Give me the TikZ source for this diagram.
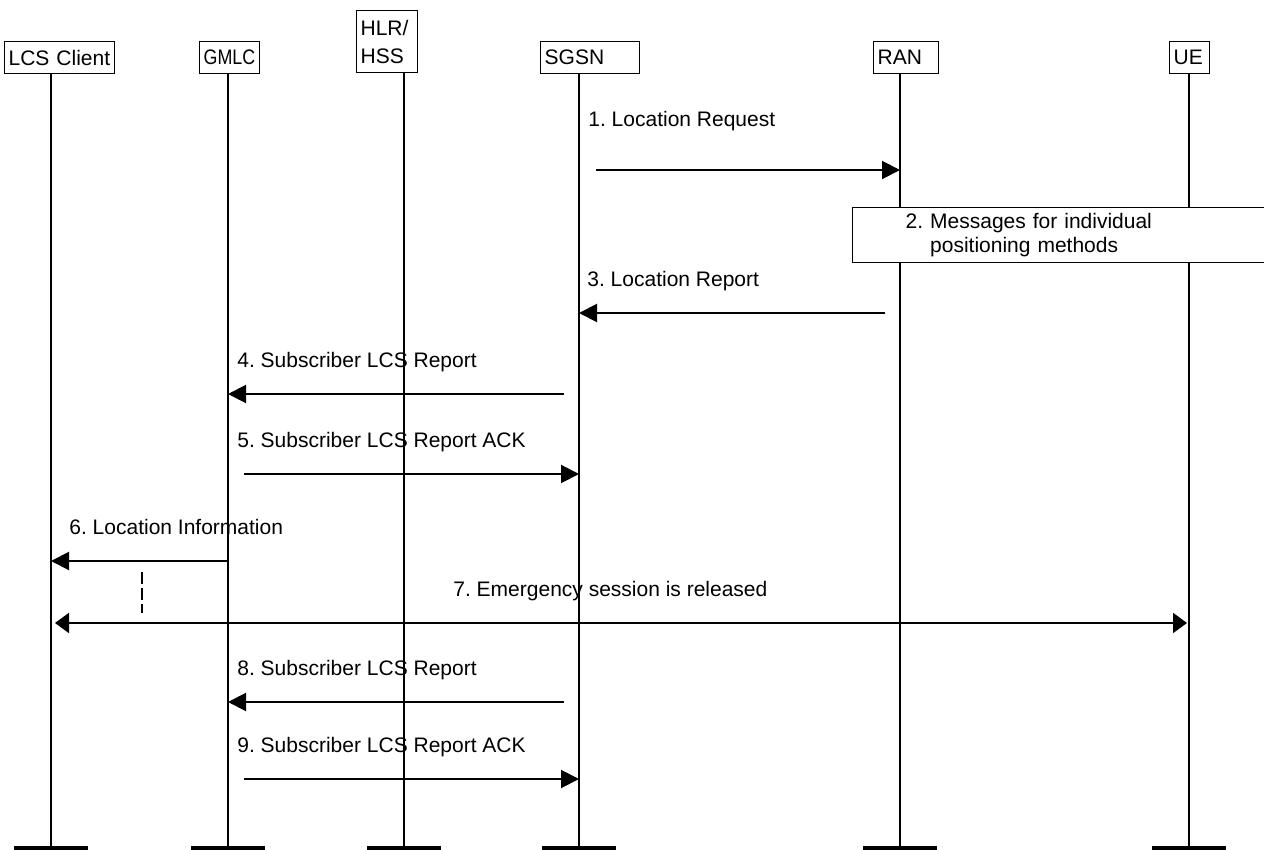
\documentclass[tikz,border=0pt]{standalone}
\usepackage{fontspec}
\usepackage{graphicx}
\setmainfont{Liberation Sans}
\usetikzlibrary{arrows.meta}
\frenchspacing
\begin{document}
\begin{tikzpicture}[x=0.5pt,y=-0.5pt,
  every node/.style={font=\fontsize{10.5pt}{14pt}\selectfont},
  actor/.style={draw, line width=0.65pt, inner xsep=2pt, inner ysep=0pt,
    align=left, anchor=north west, minimum height=16pt},
  life/.style={line width=0.8pt},
  endbar/.style={line width=2.5pt},
  msg/.style={line width=1pt, -{Triangle[length=9pt,width=9pt]}},
  rel/.style={line width=1pt,
    {Triangle[length=7pt,width=10pt]}-{Triangle[length=7pt,width=10pt]}},
  lbl/.style={anchor=base west, inner sep=0pt},
  stepnote/.style={draw, line width=0.65pt, fill=white, anchor=north west,
    align=left, inner xsep=26.5pt, inner ysep=0pt,
    font=\fontsize{10.5pt}{12pt}\selectfont}
]
\useasboundingbox (0,0) rectangle (1264,850);

% participants
\node[actor, text width=51pt]   (lcs)  at (4,41)    {LCS Client};
\node[actor, text width=26pt]   (gmlc) at (199,41)  {\scalebox{0.85}[1]{GMLC}};
\node[actor, text width=26.5pt, minimum height=31pt] (hlr) at (356,10) {HLR/\\HSS};
\node[actor, text width=45.5pt] (sgsn) at (540,41)  {SGSN};
\node[actor, text width=28.5pt] (ran)  at (873,41)  {RAN};
\node[actor, text width=16pt]   (ue)   at (1169,41) {UE};

% lifeline feet
\coordinate (lcsBot)  at (51,848);
\coordinate (gmlcBot) at (228,848);
\coordinate (hlrBot)  at (404,848);
\coordinate (sgsnBot) at (579,848);
\coordinate (ranBot)  at (900,848);
\coordinate (ueBot)   at (1189,848);

\foreach \n in {lcs,gmlc,hlr,sgsn,ran,ue}{
  \draw[life] (\n.south -| \n Bot) -- (\n Bot);
  \draw[endbar] ([xshift=-18.5pt]\n Bot) -- ([xshift=18.5pt]\n Bot);
}

% 1
\node[lbl] (l1) at (588,127) {1. Location Request};
\coordinate (m1) at (596,170);
\draw[msg] (m1) -- (m1 -| ranBot);

% 2
\node[stepnote, text width=156pt, minimum height=27.5pt] (m2) at (852,207)
  {2. Messages for individual\\\phantom{2.\ }positioning methods};

% 3
\node[lbl] (l3) at (587,287) {3. Location Report};
\coordinate (m3) at (885,313);
\draw[msg] (m3) -- (m3 -| sgsnBot);

% 4
\node[lbl] (l4) at (237,367) {4. Subscriber LCS Report};
\coordinate (m4) at (564,394);
\draw[msg] (m4) -- (m4 -| gmlcBot);

% 5
\node[lbl] (l5) at (237,447) {5. Subscriber LCS Report ACK};
\coordinate (m5) at (244,474);
\draw[msg] (m5) -- (m5 -| sgsnBot);

% 6
\node[lbl] (l6) at (69,534) {6. Location Information};
\coordinate (m6) at (228,561);
\draw[msg] (m6) -- (m6 -| lcsBot);

% dashed marker
\coordinate (dA) at (142,572);
\coordinate (dB) at (142,613);
\draw[line width=0.65pt, dash pattern=on 6pt off 2pt] (dA) -- (dB);

% 7
\node[lbl] (l7) at (453,596) {7. Emergency session is released};
\coordinate (m7a) at (55,623);
\coordinate (m7b) at (1187,623);
\draw[rel] (m7a) -- (m7b);

% 8
\node[lbl] (l8) at (237,675) {8. Subscriber LCS Report};
\coordinate (m8) at (564,702);
\draw[msg] (m8) -- (m8 -| gmlcBot);

% 9
\node[lbl] (l9) at (237,752) {9. Subscriber LCS Report ACK};
\coordinate (m9) at (244,779);
\draw[msg] (m9) -- (m9 -| sgsnBot);
\end{tikzpicture}
\end{document}
